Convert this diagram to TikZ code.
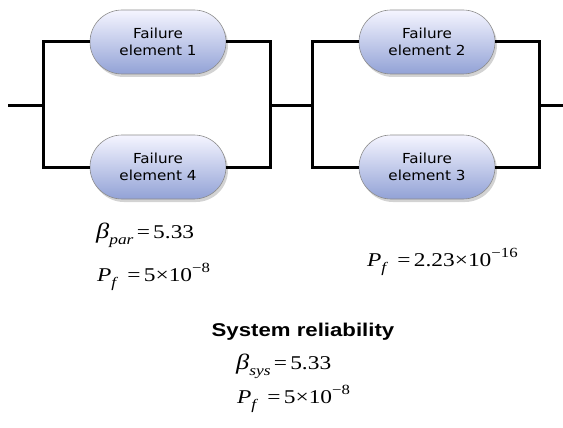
\documentclass[tikz,border=0pt]{standalone}
\usepackage{fontspec}
\usetikzlibrary{shapes.misc,shadows}
\newfontfamily\tms[FakeStretch=1.2]{Liberation Serif}
\newfontfamily\boxfont[FakeStretch=1.1]{DejaVu Sans}
\newfontfamily\headfont[FakeStretch=1.2]{Liberation Sans}
\newcommand\mysub[1]{\raisebox{-0.32em}{\fontsize{14.5}{14.5}\selectfont\textit{#1}}}
\newcommand\mysup[1]{\raisebox{0.42em}{\fontsize{14}{14}\selectfont #1}}
\newcommand\bigbeta{{\fontsize{22}{22}\selectfont\textit{β}}}
\tikzset{
  pill/.style={rounded rectangle, draw=black!45, line width=0.6pt,
    minimum width=136pt, minimum height=64pt, inner sep=0pt,
    top color=blue!4!white, bottom color={rgb,255:red,146;green,162;blue,214},
    drop shadow={shadow xshift=2pt, shadow yshift=-3pt, opacity=0.35},
    align=center, font=\boxfont\fontsize{13.8}{17}\selectfont},
  wire/.style={line width=3pt, line join=miter, draw=black},
  eq/.style={anchor=base west, inner sep=0pt, font=\tms\fontsize{19.5}{22}\selectfont}
}
\begin{document}
\begin{tikzpicture}[x=1pt,y=-1pt]
\useasboundingbox (0,0) rectangle (563,428);
\node[pill] (e1) at (158,42) {Failure\\element 1};
\node[pill] (e4) at (158,167) {Failure\\element 4};
\node[pill] (e2) at (427,42) {Failure\\element 2};
\node[pill] (e3) at (427,167) {Failure\\element 3};
\coordinate (in) at (8,106);
\coordinate (lv) at (43,106);
\coordinate (rv) at (270,106);
\coordinate (mv) at (312,106);
\coordinate (rv2) at (539,106);
\coordinate (out) at (563,106);
\draw[wire] (in) -- (lv);
\draw[wire] (e1.west) -| (lv) |- (e4.west);
\draw[wire] (e1.east) -| (rv) |- (e4.east);
\draw[wire] (rv) -- (mv);
\draw[wire] (e2.west) -| (mv) |- (e3.west);
\draw[wire] (e2.east) -| (rv2) |- (e3.east);
\draw[wire] (rv2) -- (out);
\node[eq] (bpar) at (96,238) {\bigbeta\mysub{par}\,=\,5.33};
\node[eq] (pf1) at (97,281) {\textit{P}\mysub{f}\ \,=\,5×10\mysup{−8}};
\node[eq] (pf2) at (367,266) {\textit{P}\mysub{f}\ \,=\,2.23×10\mysup{−16}};
\node[anchor=base, inner sep=0pt, font=\headfont\bfseries\fontsize{18.5}{20}\selectfont] (sys) at (303,336) {System reliability};
\node[eq] (bsys) at (236,369) {\bigbeta\mysub{sys}\,=\,5.33};
\node[eq] (pf3) at (237,403) {\textit{P}\mysub{f}\ \,=\,5×10\mysup{−8}};
\end{tikzpicture}
\end{document}
